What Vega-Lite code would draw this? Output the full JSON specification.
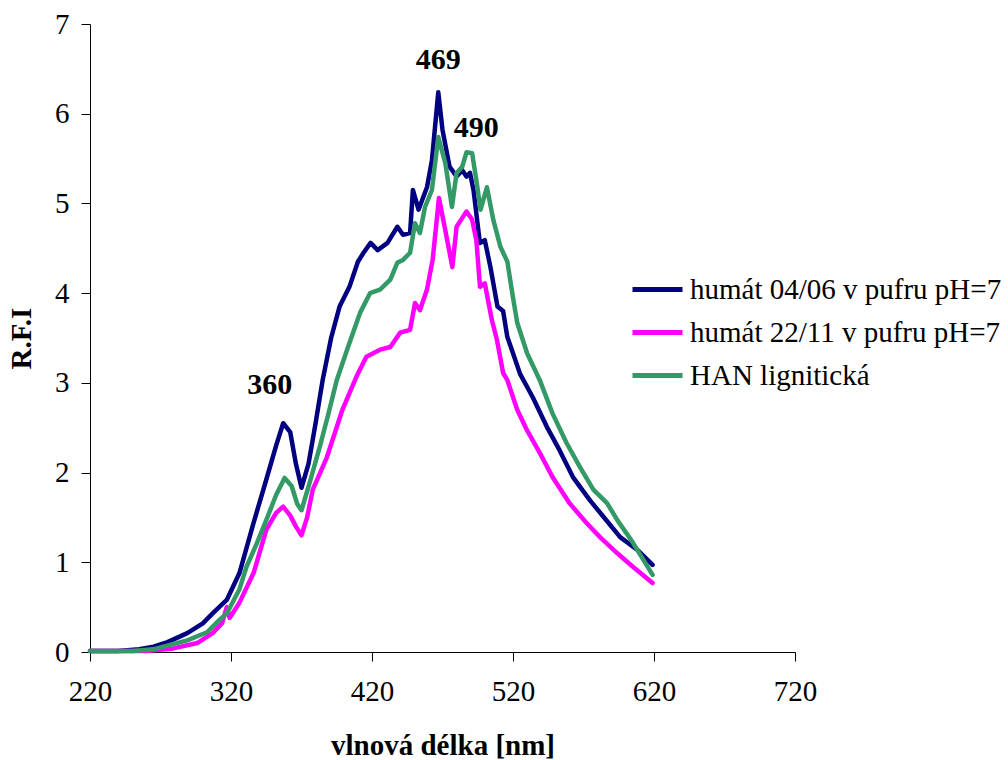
{
  "$schema": "https://vega.github.io/schema/vega-lite/v6.json",
  "width": 705,
  "height": 628,
  "autosize": {"type": "none"},
  "padding": {"left": 90, "top": 24, "right": 213, "bottom": 108},
  "background": "white",
  "config": {
    "font": "Liberation Serif",
    "view": {"stroke": null},
    "axis": {"grid": false, "domainColor": "#000000", "tickColor": "#000000", "labelColor": "#000000", "titleColor": "#000000", "labelFont": "Liberation Serif", "titleFont": "Liberation Serif", "labelFontSize": 29, "titleFontSize": 29, "titleFontWeight": "bold", "domainWidth": 1, "tickWidth": 1, "labelFlush": false}
  },
  "datasets": {
    "curves": [
      {"s": "humát 04/06 v pufru pH=7", "x": 220, "y": 0.01},
      {"s": "humát 04/06 v pufru pH=7", "x": 240, "y": 0.01},
      {"s": "humát 04/06 v pufru pH=7", "x": 255, "y": 0.03},
      {"s": "humát 04/06 v pufru pH=7", "x": 265, "y": 0.06},
      {"s": "humát 04/06 v pufru pH=7", "x": 275, "y": 0.11},
      {"s": "humát 04/06 v pufru pH=7", "x": 289, "y": 0.21},
      {"s": "humát 04/06 v pufru pH=7", "x": 300, "y": 0.32},
      {"s": "humát 04/06 v pufru pH=7", "x": 307, "y": 0.43},
      {"s": "humát 04/06 v pufru pH=7", "x": 317, "y": 0.58},
      {"s": "humát 04/06 v pufru pH=7", "x": 326, "y": 0.88},
      {"s": "humát 04/06 v pufru pH=7", "x": 336, "y": 1.44},
      {"s": "humát 04/06 v pufru pH=7", "x": 345, "y": 1.92},
      {"s": "humát 04/06 v pufru pH=7", "x": 352, "y": 2.3},
      {"s": "humát 04/06 v pufru pH=7", "x": 357, "y": 2.55},
      {"s": "humát 04/06 v pufru pH=7", "x": 362, "y": 2.45},
      {"s": "humát 04/06 v pufru pH=7", "x": 366, "y": 2.1},
      {"s": "humát 04/06 v pufru pH=7", "x": 370, "y": 1.83},
      {"s": "humát 04/06 v pufru pH=7", "x": 375, "y": 2.1},
      {"s": "humát 04/06 v pufru pH=7", "x": 380, "y": 2.55},
      {"s": "humát 04/06 v pufru pH=7", "x": 385, "y": 3.03},
      {"s": "humát 04/06 v pufru pH=7", "x": 391, "y": 3.5},
      {"s": "humát 04/06 v pufru pH=7", "x": 397, "y": 3.85},
      {"s": "humát 04/06 v pufru pH=7", "x": 404, "y": 4.07},
      {"s": "humát 04/06 v pufru pH=7", "x": 410, "y": 4.35},
      {"s": "humát 04/06 v pufru pH=7", "x": 414, "y": 4.45},
      {"s": "humát 04/06 v pufru pH=7", "x": 419, "y": 4.56},
      {"s": "humát 04/06 v pufru pH=7", "x": 424, "y": 4.48},
      {"s": "humát 04/06 v pufru pH=7", "x": 431, "y": 4.56},
      {"s": "humát 04/06 v pufru pH=7", "x": 438, "y": 4.74},
      {"s": "humát 04/06 v pufru pH=7", "x": 442, "y": 4.65},
      {"s": "humát 04/06 v pufru pH=7", "x": 447, "y": 4.67},
      {"s": "humát 04/06 v pufru pH=7", "x": 449, "y": 5.15},
      {"s": "humát 04/06 v pufru pH=7", "x": 453, "y": 4.93},
      {"s": "humát 04/06 v pufru pH=7", "x": 459, "y": 5.18},
      {"s": "humát 04/06 v pufru pH=7", "x": 462.5, "y": 5.48},
      {"s": "humát 04/06 v pufru pH=7", "x": 467, "y": 6.24},
      {"s": "humát 04/06 v pufru pH=7", "x": 470, "y": 5.82},
      {"s": "humát 04/06 v pufru pH=7", "x": 475, "y": 5.41},
      {"s": "humát 04/06 v pufru pH=7", "x": 480, "y": 5.3},
      {"s": "humát 04/06 v pufru pH=7", "x": 484, "y": 5.37},
      {"s": "humát 04/06 v pufru pH=7", "x": 487, "y": 5.3},
      {"s": "humát 04/06 v pufru pH=7", "x": 489.5, "y": 5.34},
      {"s": "humát 04/06 v pufru pH=7", "x": 492, "y": 5.15},
      {"s": "humát 04/06 v pufru pH=7", "x": 496.5, "y": 4.56},
      {"s": "humát 04/06 v pufru pH=7", "x": 500, "y": 4.59},
      {"s": "humát 04/06 v pufru pH=7", "x": 504, "y": 4.29},
      {"s": "humát 04/06 v pufru pH=7", "x": 509, "y": 3.85},
      {"s": "humát 04/06 v pufru pH=7", "x": 513, "y": 3.8},
      {"s": "humát 04/06 v pufru pH=7", "x": 516, "y": 3.51},
      {"s": "humát 04/06 v pufru pH=7", "x": 520, "y": 3.33},
      {"s": "humát 04/06 v pufru pH=7", "x": 525, "y": 3.1},
      {"s": "humát 04/06 v pufru pH=7", "x": 534, "y": 2.84},
      {"s": "humát 04/06 v pufru pH=7", "x": 544, "y": 2.51},
      {"s": "humát 04/06 v pufru pH=7", "x": 553, "y": 2.25},
      {"s": "humát 04/06 v pufru pH=7", "x": 562.5, "y": 1.95},
      {"s": "humát 04/06 v pufru pH=7", "x": 574.6, "y": 1.69},
      {"s": "humát 04/06 v pufru pH=7", "x": 584, "y": 1.51},
      {"s": "humát 04/06 v pufru pH=7", "x": 596, "y": 1.28},
      {"s": "humát 04/06 v pufru pH=7", "x": 608, "y": 1.14},
      {"s": "humát 04/06 v pufru pH=7", "x": 619, "y": 0.97},

      {"s": "humát 22/11 v pufru pH=7", "x": 220, "y": 0.01},
      {"s": "humát 22/11 v pufru pH=7", "x": 260, "y": 0.01},
      {"s": "humát 22/11 v pufru pH=7", "x": 279, "y": 0.04},
      {"s": "humát 22/11 v pufru pH=7", "x": 296, "y": 0.1},
      {"s": "humát 22/11 v pufru pH=7", "x": 307, "y": 0.21},
      {"s": "humát 22/11 v pufru pH=7", "x": 313.6, "y": 0.32},
      {"s": "humát 22/11 v pufru pH=7", "x": 317, "y": 0.5},
      {"s": "humát 22/11 v pufru pH=7", "x": 319, "y": 0.38},
      {"s": "humát 22/11 v pufru pH=7", "x": 326, "y": 0.55},
      {"s": "humát 22/11 v pufru pH=7", "x": 336, "y": 0.88},
      {"s": "humát 22/11 v pufru pH=7", "x": 345, "y": 1.36},
      {"s": "humát 22/11 v pufru pH=7", "x": 352, "y": 1.55},
      {"s": "humát 22/11 v pufru pH=7", "x": 357, "y": 1.62},
      {"s": "humát 22/11 v pufru pH=7", "x": 362, "y": 1.52},
      {"s": "humát 22/11 v pufru pH=7", "x": 366, "y": 1.4},
      {"s": "humát 22/11 v pufru pH=7", "x": 370, "y": 1.3},
      {"s": "humát 22/11 v pufru pH=7", "x": 374, "y": 1.5},
      {"s": "humát 22/11 v pufru pH=7", "x": 378, "y": 1.81},
      {"s": "humát 22/11 v pufru pH=7", "x": 388, "y": 2.17},
      {"s": "humát 22/11 v pufru pH=7", "x": 399, "y": 2.7},
      {"s": "humát 22/11 v pufru pH=7", "x": 409, "y": 3.07},
      {"s": "humát 22/11 v pufru pH=7", "x": 416, "y": 3.29},
      {"s": "humát 22/11 v pufru pH=7", "x": 425.7, "y": 3.37},
      {"s": "humát 22/11 v pufru pH=7", "x": 433, "y": 3.4},
      {"s": "humát 22/11 v pufru pH=7", "x": 440, "y": 3.56},
      {"s": "humát 22/11 v pufru pH=7", "x": 447, "y": 3.59},
      {"s": "humát 22/11 v pufru pH=7", "x": 450.5, "y": 3.89},
      {"s": "humát 22/11 v pufru pH=7", "x": 454, "y": 3.81},
      {"s": "humát 22/11 v pufru pH=7", "x": 459, "y": 4.04},
      {"s": "humát 22/11 v pufru pH=7", "x": 463, "y": 4.37},
      {"s": "humát 22/11 v pufru pH=7", "x": 467.5, "y": 5.06},
      {"s": "humát 22/11 v pufru pH=7", "x": 472, "y": 4.7},
      {"s": "humát 22/11 v pufru pH=7", "x": 477, "y": 4.29},
      {"s": "humát 22/11 v pufru pH=7", "x": 480, "y": 4.74},
      {"s": "humát 22/11 v pufru pH=7", "x": 484.5, "y": 4.85},
      {"s": "humát 22/11 v pufru pH=7", "x": 487, "y": 4.91},
      {"s": "humát 22/11 v pufru pH=7", "x": 491, "y": 4.82},
      {"s": "humát 22/11 v pufru pH=7", "x": 494, "y": 4.59},
      {"s": "humát 22/11 v pufru pH=7", "x": 496.6, "y": 4.07},
      {"s": "humát 22/11 v pufru pH=7", "x": 500, "y": 4.11},
      {"s": "humát 22/11 v pufru pH=7", "x": 505, "y": 3.7},
      {"s": "humát 22/11 v pufru pH=7", "x": 508.6, "y": 3.48},
      {"s": "humát 22/11 v pufru pH=7", "x": 513, "y": 3.11},
      {"s": "humát 22/11 v pufru pH=7", "x": 516, "y": 3.03},
      {"s": "humát 22/11 v pufru pH=7", "x": 523, "y": 2.7},
      {"s": "humát 22/11 v pufru pH=7", "x": 530, "y": 2.47},
      {"s": "humát 22/11 v pufru pH=7", "x": 539, "y": 2.22},
      {"s": "humát 22/11 v pufru pH=7", "x": 548, "y": 1.95},
      {"s": "humát 22/11 v pufru pH=7", "x": 560, "y": 1.66},
      {"s": "humát 22/11 v pufru pH=7", "x": 572, "y": 1.44},
      {"s": "humát 22/11 v pufru pH=7", "x": 581.7, "y": 1.28},
      {"s": "humát 22/11 v pufru pH=7", "x": 594, "y": 1.1},
      {"s": "humát 22/11 v pufru pH=7", "x": 605, "y": 0.95},
      {"s": "humát 22/11 v pufru pH=7", "x": 619, "y": 0.77},

      {"s": "HAN lignitická", "x": 220, "y": 0.01},
      {"s": "HAN lignitická", "x": 250, "y": 0.01},
      {"s": "HAN lignitická", "x": 265, "y": 0.03},
      {"s": "HAN lignitická", "x": 272, "y": 0.06},
      {"s": "HAN lignitická", "x": 289, "y": 0.13},
      {"s": "HAN lignitická", "x": 303, "y": 0.22},
      {"s": "HAN lignitická", "x": 312, "y": 0.36},
      {"s": "HAN lignitická", "x": 317, "y": 0.43},
      {"s": "HAN lignitická", "x": 326, "y": 0.7},
      {"s": "HAN lignitická", "x": 331, "y": 0.95},
      {"s": "HAN lignitická", "x": 338, "y": 1.2},
      {"s": "HAN lignitická", "x": 345, "y": 1.47},
      {"s": "HAN lignitická", "x": 352, "y": 1.75},
      {"s": "HAN lignitická", "x": 358, "y": 1.94},
      {"s": "HAN lignitická", "x": 363, "y": 1.85},
      {"s": "HAN lignitická", "x": 367, "y": 1.65},
      {"s": "HAN lignitická", "x": 370, "y": 1.58},
      {"s": "HAN lignitická", "x": 376, "y": 1.9},
      {"s": "HAN lignitická", "x": 383, "y": 2.29},
      {"s": "HAN lignitická", "x": 389, "y": 2.65},
      {"s": "HAN lignitická", "x": 395, "y": 3.03},
      {"s": "HAN lignitická", "x": 403, "y": 3.4},
      {"s": "HAN lignitická", "x": 411.5, "y": 3.78},
      {"s": "HAN lignitická", "x": 418.6, "y": 4.0},
      {"s": "HAN lignitická", "x": 425.7, "y": 4.04},
      {"s": "HAN lignitická", "x": 433, "y": 4.15},
      {"s": "HAN lignitická", "x": 438, "y": 4.34},
      {"s": "HAN lignitická", "x": 442, "y": 4.37},
      {"s": "HAN lignitická", "x": 447, "y": 4.45},
      {"s": "HAN lignitická", "x": 450.5, "y": 4.78},
      {"s": "HAN lignitická", "x": 454, "y": 4.67},
      {"s": "HAN lignitická", "x": 457.6, "y": 4.96},
      {"s": "HAN lignitická", "x": 462.5, "y": 5.15},
      {"s": "HAN lignitická", "x": 467, "y": 5.74},
      {"s": "HAN lignitická", "x": 472, "y": 5.45},
      {"s": "HAN lignitická", "x": 476.7, "y": 4.96},
      {"s": "HAN lignitická", "x": 480, "y": 5.34},
      {"s": "HAN lignitická", "x": 484, "y": 5.41},
      {"s": "HAN lignitická", "x": 487, "y": 5.57},
      {"s": "HAN lignitická", "x": 491, "y": 5.56},
      {"s": "HAN lignitická", "x": 494, "y": 5.26},
      {"s": "HAN lignitická", "x": 497, "y": 4.93},
      {"s": "HAN lignitická", "x": 501.5, "y": 5.18},
      {"s": "HAN lignitická", "x": 506, "y": 4.82},
      {"s": "HAN lignitická", "x": 511, "y": 4.52},
      {"s": "HAN lignitická", "x": 516, "y": 4.35},
      {"s": "HAN lignitická", "x": 520, "y": 3.95},
      {"s": "HAN lignitická", "x": 523, "y": 3.67},
      {"s": "HAN lignitická", "x": 530, "y": 3.33},
      {"s": "HAN lignitická", "x": 539, "y": 3.03},
      {"s": "HAN lignitická", "x": 548, "y": 2.66},
      {"s": "HAN lignitická", "x": 558, "y": 2.33},
      {"s": "HAN lignitická", "x": 567.5, "y": 2.06},
      {"s": "HAN lignitická", "x": 577, "y": 1.81},
      {"s": "HAN lignitická", "x": 586.7, "y": 1.66},
      {"s": "HAN lignitická", "x": 594, "y": 1.47},
      {"s": "HAN lignitická", "x": 605, "y": 1.22},
      {"s": "HAN lignitická", "x": 619, "y": 0.86}
    ],
    "peaks": [
      {"x": 347.5, "y": 2.98, "t": "360"},
      {"x": 467, "y": 6.6, "t": "469"},
      {"x": 494, "y": 5.84, "t": "490"}
    ]
  },
  "layer": [
    {
      "data": {"name": "curves"},
      "mark": {"type": "line", "strokeWidth": 4.5, "strokeCap": "round", "strokeJoin": "round"},
      "encoding": {
        "x": {"field": "x", "type": "quantitative", "scale": {"domain": [220, 720], "nice": false, "zero": false},
              "axis": {"values": [220, 320, 420, 520, 620, 720], "format": "d", "title": "vlnová délka [nm]", "tickSize": 9, "labelPadding": 16, "titlePadding": 25, "labelFlush": false, "labelOverlap": false}},
        "y": {"field": "y", "type": "quantitative", "scale": {"domain": [0, 7], "nice": false},
              "axis": {"values": [0, 1, 2, 3, 4, 5, 6, 7], "format": "d", "title": "R.F.I", "tickSize": 9, "labelPadding": 12, "titlePadding": 18, "labelFlush": false, "labelOverlap": false}},
        "color": {"field": "s", "type": "nominal",
                  "scale": {"domain": ["humát 04/06 v pufru pH=7", "humát 22/11 v pufru pH=7", "HAN lignitická"], "range": ["#000080", "#FF00FF", "#339966"]},
                  "legend": {"title": null, "orient": "none", "legendX": 540, "legendY": 238, "symbolType": "stroke", "symbolSize": 2500, "symbolStrokeWidth": 5, "labelFontSize": 29, "labelFont": "Liberation Serif", "labelColor": "#000000", "labelOffset": 5, "rowPadding": -12, "labelLimit": 400}},
        "order": {"field": "x", "type": "quantitative"}
      }
    },
    {
      "data": {"name": "peaks"},
      "mark": {"type": "text", "font": "Liberation Serif", "fontSize": 30, "fontWeight": "bold", "color": "#000000"},
      "encoding": {
        "x": {"field": "x", "type": "quantitative"},
        "y": {"field": "y", "type": "quantitative"},
        "text": {"field": "t"}
      }
    }
  ]
}
